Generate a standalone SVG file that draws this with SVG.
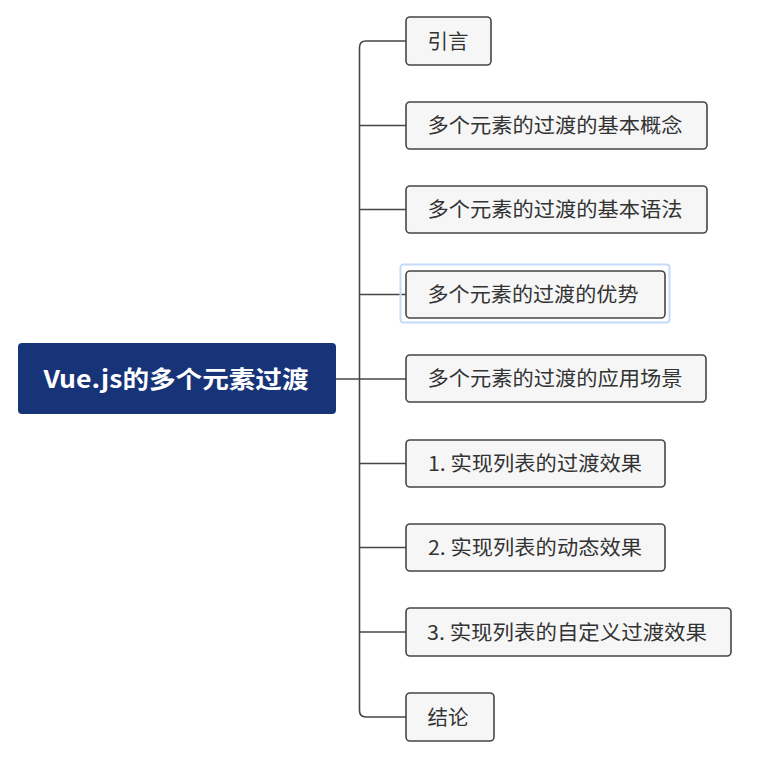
<svg xmlns="http://www.w3.org/2000/svg" width="762" height="757" viewBox="0 0 762 757">
<style>
.box{fill:#f6f6f6;stroke:#464646;stroke-width:1.6}
.t{font-family:"Noto Sans CJK SC","Noto Sans",sans-serif;font-size:20px;fill:#333;text-anchor:middle}
.c{fill:none;stroke:#464646;stroke-width:1.6}
</style>
<rect width="762" height="757" fill="#fff"/>
<g id="connectors">
<path class="c" d="M335,379 H406"/>
<path class="c" d="M406,41 H366 Q359.5,41 359.5,47.5 V710.5 Q359.5,717 366,717 H406"/>
<path class="c" d="M359.5,125.5 H406"/>
<path class="c" d="M359.5,209.5 H406"/>
<path class="c" d="M359.5,294.5 H406"/>
<path class="c" d="M359.5,463.5 H406"/>
<path class="c" d="M359.5,547.5 H406"/>
<path class="c" d="M359.5,632 H406"/>
</g>
<g id="root">
<rect x="18" y="343" width="318" height="71" rx="4" fill="#183479"/>
<text x="176" y="388" font-family="'Noto Sans CJK SC','Noto Sans',sans-serif" font-size="24" font-weight="bold" fill="#fff" text-anchor="middle" textLength="265" lengthAdjust="spacingAndGlyphs">Vue.js的多个元素过渡</text>
</g>
<g id="n1">
<rect class="box" x="406" y="17" width="85" height="48" rx="4"/>
<text class="t" x="448" y="48.5" textLength="41" lengthAdjust="spacingAndGlyphs">引言</text>
</g>
<g id="n2">
<rect class="box" x="406" y="102" width="301" height="47" rx="4"/>
<text class="t" x="555" y="133" textLength="255" lengthAdjust="spacingAndGlyphs">多个元素的过渡的基本概念</text>
</g>
<g id="n3">
<rect class="box" x="406" y="186" width="301" height="47" rx="4"/>
<text class="t" x="555" y="217" textLength="255" lengthAdjust="spacingAndGlyphs">多个元素的过渡的基本语法</text>
</g>
<g id="n4">
<rect x="400.5" y="264.5" width="269" height="58" rx="3" fill="none" stroke="#c6dbf8" stroke-width="2"/>
<rect class="box" x="406" y="271" width="259" height="47" rx="4"/>
<text class="t" x="533" y="302" textLength="211" lengthAdjust="spacingAndGlyphs">多个元素的过渡的优势</text>
</g>
<g id="n5">
<rect class="box" x="406" y="355" width="300" height="47" rx="4"/>
<text class="t" x="555" y="386" textLength="255" lengthAdjust="spacingAndGlyphs">多个元素的过渡的应用场景</text>
</g>
<g id="n6">
<rect class="box" x="406" y="440" width="259" height="47" rx="4"/>
<text class="t" x="535" y="471" textLength="214" lengthAdjust="spacingAndGlyphs">1. 实现列表的过渡效果</text>
</g>
<g id="n7">
<rect class="box" x="406" y="524" width="259" height="47" rx="4"/>
<text class="t" x="535" y="555" textLength="214" lengthAdjust="spacingAndGlyphs">2. 实现列表的动态效果</text>
</g>
<g id="n8">
<rect class="box" x="406" y="608" width="325" height="48" rx="4"/>
<text class="t" x="567" y="639.5" textLength="280" lengthAdjust="spacingAndGlyphs">3. 实现列表的自定义过渡效果</text>
</g>
<g id="n9">
<rect class="box" x="406" y="693" width="88" height="48" rx="4"/>
<text class="t" x="448" y="724.5" textLength="41" lengthAdjust="spacingAndGlyphs">结论</text>
</g>
</svg>
